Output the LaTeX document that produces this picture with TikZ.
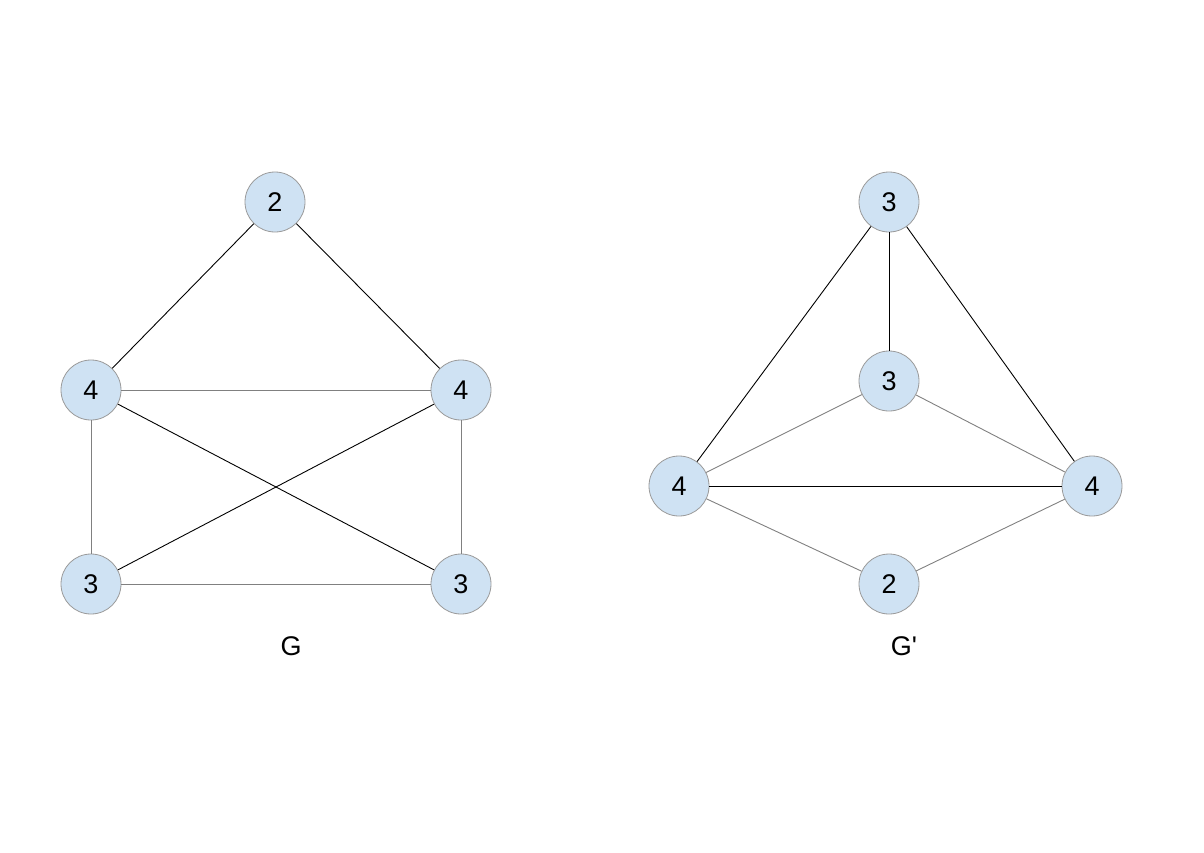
\documentclass[tikz,border=0pt]{standalone}
\usepackage{fontspec}
\setmainfont{Liberation Sans}
\definecolor{nodefill}{HTML}{CFE2F3}
\definecolor{nodeline}{HTML}{9A9A9A}
\definecolor{edgegray}{HTML}{808080}
\begin{document}
\begin{tikzpicture}[x=1pt,y=-1pt,
  vert/.style={circle,draw=nodeline,fill=nodefill,line width=0.8pt,minimum size=60pt,inner sep=0pt,font=\fontsize{27}{27}\selectfont},
  darkedge/.style={draw=black,line width=0.9pt},
  lightedge/.style={draw=edgegray,line width=0.9pt},
  lbl/.style={font=\fontsize{27}{27}\selectfont}]
\useasboundingbox (0,0) rectangle (1204,852);
% G
\node[vert] (a2) at (275,202) {2};
\node[vert] (a4l) at (91,390) {4};
\node[vert] (a4r) at (461,390) {4};
\node[vert] (a3l) at (91,584) {3};
\node[vert] (a3r) at (461,584) {3};
\node[lbl] (gl) at (291,646) {G};
\draw[darkedge] (a2) -- (a4l);
\draw[darkedge] (a2) -- (a4r);
\draw[lightedge] (a4l) -- (a4r);
\draw[lightedge] (a4l) -- (a3l);
\draw[lightedge] (a4r) -- (a3r);
\draw[lightedge] (a3l) -- (a3r);
\draw[darkedge] (a4l) -- (a3r);
\draw[darkedge] (a4r) -- (a3l);
% G'
\node[vert] (b3t) at (889,202) {3};
\node[vert] (b3m) at (889,381) {3};
\node[vert] (b4l) at (679,486) {4};
\node[vert] (b4r) at (1092,486) {4};
\node[vert] (b2) at (889,584) {2};
\node[lbl] (gpl) at (904,646) {G\textquotesingle};
\draw[darkedge] (b3t) -- (b4l);
\draw[darkedge] (b3t) -- (b4r);
\draw[darkedge] (b3t) -- (b3m);
\draw[darkedge] (b4l) -- (b4r);
\draw[lightedge] (b3m) -- (b4l);
\draw[lightedge] (b3m) -- (b4r);
\draw[lightedge] (b4l) -- (b2);
\draw[lightedge] (b4r) -- (b2);
\end{tikzpicture}
\end{document}
